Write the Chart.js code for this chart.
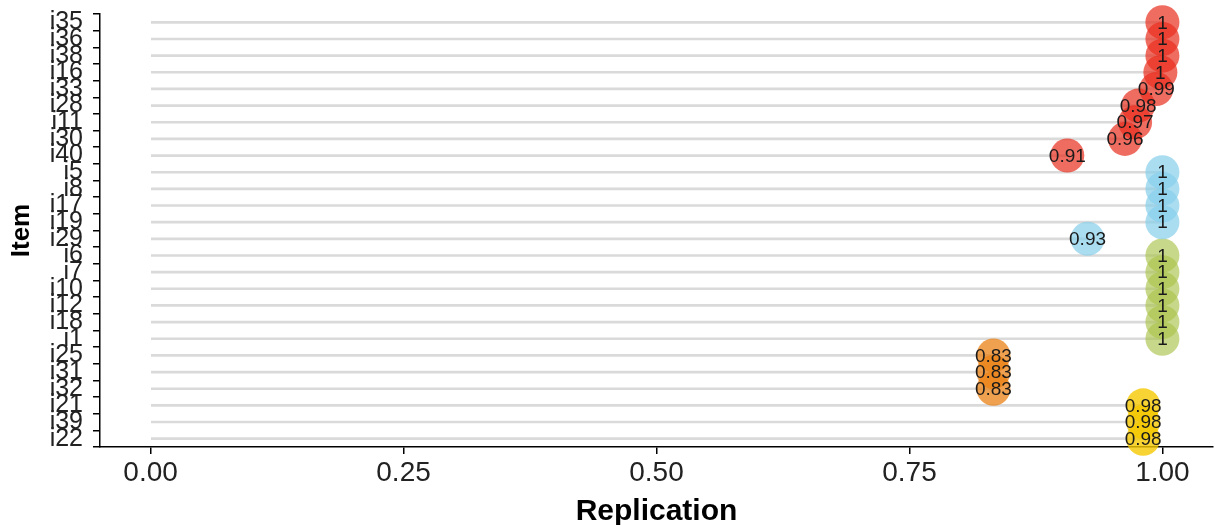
<!DOCTYPE html>
<html>
<head>
<meta charset="utf-8">
<script src="https://cdn.jsdelivr.net/npm/chart.js@4.4.1/dist/chart.umd.min.js"></script>
<style>
  body { margin: 0; background: #fff; }
  #wrap { width: 1215px; height: 525px; }
</style>
</head>
<body>
<div id="wrap"><canvas id="chart-replication" width="1215" height="525"></canvas></div>
<script>
// items, top to bottom
const items = ["i35", "i36", "i38", "i16", "i33", "i28", "i11", "i30", "i40",
    "i5", "i8", "i17", "i19", "i29",
    "i6", "i7", "i10", "i12", "i18", "i1",
    "i25", "i31", "i32",
    "i21", "i39", "i22"];
const replication = [1, 1, 1, 0.998, 0.994, 0.976, 0.973, 0.963, 0.906,
    1, 1, 1, 1, 0.926,
    1, 1, 1, 1, 1, 1,
    0.833, 0.833, 0.833,
    0.981, 0.981, 0.981];
const groups = ["A", "A", "A", "A", "A", "A", "A", "A", "A",
    "B", "B", "B", "B", "B",
    "C", "C", "C", "C", "C", "C",
    "D", "D", "D",
    "E", "E", "E"];
const groupNames = ["A", "B", "C", "D", "E"];
const groupColors = {
    A: "rgba(232, 45, 30, 0.7)",
    B: "rgba(135, 206, 235, 0.7)",
    C: "rgba(170, 195, 75, 0.65)",
    D: "rgba(235, 130, 20, 0.75)",
    E: "rgba(245, 200, 0, 0.8)",
};
const xTicks = [0, 0.25, 0.5, 0.75, 1];

function fmt(v) {
    const r = Math.round(v * 100) / 100;
    return r === 1 ? "1" : r.toFixed(2);
}

// one scatter dataset per group
let pointSets = groupNames.map((g) => {
    let pts = [];
    items.forEach((it, i) => {
        if (groups[i] === g) pts.push({ x: replication[i], y: it });
    });
    return {
        type: "scatter",
        data: pts,
        backgroundColor: groupColors[g],
        borderWidth: 0,
        pointRadius: 17,
        pointHoverRadius: 17,
        clip: false,
        order: 0,
    };
});

const valueLabels = {
    id: "valueLabels",
    afterDatasetsDraw(chart) {
        const ctx = chart.ctx;
        ctx.save();
        ctx.font = "19px 'Liberation Sans', Arial, sans-serif";
        ctx.fillStyle = "#1a1a1a";
        ctx.textAlign = "center";
        ctx.textBaseline = "middle";
        chart.data.datasets.forEach((ds, di) => {
            if (ds.type !== "scatter") return;
            chart.getDatasetMeta(di).data.forEach((el, j) => {
                ctx.fillText(fmt(ds.data[j].x), el.x, el.y + 1);
            });
        });
        ctx.restore();
    },
};

const config = {
    type: "scatter",
    data: {
        labels: items,
        datasets: [
            {
                type: "bar",
                indexAxis: "y",
                data: replication,
                backgroundColor: "#dadada",
                barThickness: 2,
                order: 10,
            },
            ...pointSets,
        ],
    },
    options: {
        responsive: false,
        animation: false,
        layout: { autoPadding: false, padding: { top: 14, right: 2, left: 0, bottom: 0 } },
        plugins: {
            legend: { display: false },
            tooltip: { enabled: false },
        },
        scales: {
            x: {
                type: "linear",
                min: -0.05,
                max: 1.05,
                afterBuildTicks: (scale) => {
                    scale.ticks = xTicks.map((v) => ({ value: v }));
                },
                afterFit: (scale) => {
                    scale.height = 78;
                    scale.paddingLeft = 0;
                    scale.paddingRight = 0;
                },
                ticks: {
                    callback: (v) => Number(v).toFixed(2),
                    font: { family: "'Liberation Sans', Arial, sans-serif", size: 28 },
                    color: "#222",
                    padding: 2,
                    maxRotation: 0,
                },
                grid: { drawOnChartArea: false, color: "#000", tickLength: 7, lineWidth: 1.5 },
                border: { display: true, color: "#000", width: 1.5 },
                title: {
                    display: true,
                    text: "Replication",
                    font: { family: "'Liberation Sans', Arial, sans-serif", size: 30, weight: "bold", lineHeight: 0.9 },
                    color: "#000",
                    padding: { top: 0, bottom: 0 },
                },
            },
            y: {
                type: "category",
                labels: items,
                offset: true,
                afterFit: (scale) => {
                    scale.width = 100;
                    scale.paddingTop = 0;
                    scale.paddingBottom = 0;
                },
                ticks: {
                    autoSkip: false,
                    font: { family: "'Liberation Sans', Arial, sans-serif", size: 25 },
                    color: "#222",
                    padding: 10,
                },
                grid: { drawOnChartArea: false, color: "#000", tickLength: 7, lineWidth: 1.5 },
                border: { display: true, color: "#000", width: 1.5 },
                title: {
                    display: true,
                    text: "Item",
                    font: { family: "'Liberation Sans', Arial, sans-serif", size: 26, weight: "bold" },
                    color: "#000",
                    padding: { top: 6, bottom: 0 },
                },
            },
        },
    },
    plugins: [valueLabels],
};

const myChart = new Chart(document.getElementById("chart-replication"), config);
</script>
</body>
</html>
